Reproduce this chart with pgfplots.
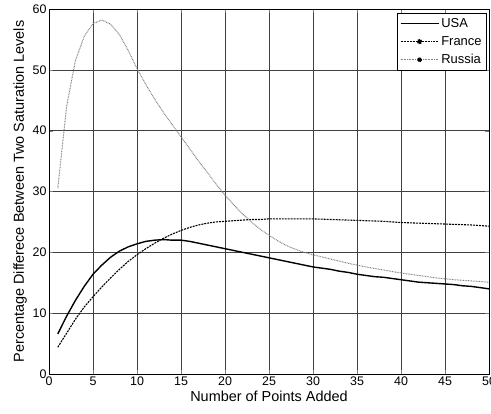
\documentclass[border=0pt]{standalone}
\usepackage{pgfplots}
\pgfplotsset{compat=1.18}
\usepackage{fontspec}
\setmainfont{Liberation Sans}

\begin{document}
\begin{tikzpicture}[x=1bp,y=1bp]
\begin{axis}[
  name=ax,
  width=440bp, height=365bp,
  scale only axis,
  xmin=0, xmax=50, ymin=0, ymax=60,
  xtick={0,5,...,50}, ytick={0,10,...,60},
  tick align=inside,
  major tick length=4bp,
  axis line style={black, line width=1pt},
  grid=major,
  grid style={black!75, line width=0.6pt},
  /pgf/number format/assume math mode=true,
  tick label style={font=\fontsize{12.5}{14}\selectfont},
  xticklabel style={yshift=1bp},
  yticklabel style={xshift=1bp},
  label style={font=\fontsize{14.5}{16}\selectfont},
  xlabel={Number of Points Added},
  ylabel={Percentage Differece Between Two Saturation Levels},
  xlabel style={yshift=1bp},
  ylabel style={yshift=-1bp},
  legend style={at={(1,1)}, anchor=north east, xshift=-2bp, yshift=-4bp,
    font=\fontsize{13}{15}\selectfont, draw=black, line width=0.8pt,
    inner xsep=3bp, inner ysep=3bp, row sep=3.5bp, cells={anchor=west}},
  legend cell align=left,
]
\addplot[black, line width=1.4pt,
  legend image code/.code={\draw[black, line width=1.4pt] (0bp,0bp) -- (38bp,0bp);}]
coordinates {
(1,6.6) (2,9.5) (3,12.1) (4,14.4) (5,16.4) (6,17.9) (7,19.2) (8,20.2) (9,20.9) (10,21.4)
(11,21.8) (12,22.0) (13,22.1) (14,22.0) (15,22.0) (16,21.8) (17,21.5) (18,21.2) (19,20.9) (20,20.6)
(21,20.3) (22,20.0) (23,19.7) (24,19.4) (25,19.1) (26,18.8) (27,18.5) (28,18.2) (29,17.9) (30,17.6)
(31,17.4) (32,17.2) (33,16.9) (34,16.7) (35,16.4) (36,16.2) (37,16.0) (38,15.9) (39,15.7) (40,15.5)
(41,15.3) (42,15.1) (43,15.0) (44,14.9) (45,14.8) (46,14.7) (47,14.5) (48,14.4) (49,14.2) (50,14.0)
};
\addlegendentry{USA}
\addplot[black, line width=1.1pt, dash pattern=on 2pt off 1pt,
  legend image code/.code={\draw[black, line width=1.1pt, dash pattern=on 2pt off 1pt] (0bp,0bp) -- (38bp,0bp);
    \fill[black] (19bp,0bp) circle (2bp);}]
coordinates {
(1,4.4) (2,6.7) (3,9.0) (4,11.0) (5,12.7) (6,14.3) (7,15.8) (8,17.2) (9,18.5) (10,19.6)
(11,20.6) (12,21.5) (13,22.3) (14,23.0) (15,23.6) (16,24.1) (17,24.5) (18,24.8) (19,25.0) (20,25.1)
(21,25.2) (22,25.3) (23,25.4) (24,25.4) (25,25.5) (26,25.5) (27,25.5) (28,25.5) (29,25.5) (30,25.5)
(32,25.4) (34,25.3) (36,25.2) (38,25.1) (40,24.9) (42,24.8) (44,24.7) (46,24.6) (48,24.5) (50,24.3)
};
\addlegendentry{France}
\addplot[black!50, line width=1pt, dash pattern=on 0.8pt off 0.8pt,
  legend image code/.code={\draw[black!50, line width=1pt, dash pattern=on 0.8pt off 0.8pt] (0bp,0bp) -- (38bp,0bp);
    \fill[black] (19bp,0bp) circle (2bp);}]
coordinates {
(1,30.5) (2,44.0) (3,51.5) (4,55.5) (5,57.6) (6,58.2) (7,57.5) (8,55.8) (9,53.2) (10,50.2)
(11,47.6) (12,45.2) (13,43.0) (14,41.0) (15,39.0) (16,37.0) (17,35.0) (18,33.1) (19,31.2) (20,29.4)
(21,27.8) (22,26.3) (23,25.0) (24,23.8) (25,22.8) (26,21.9) (27,21.1) (28,20.5) (29,20.0) (30,19.6)
(32,18.9) (34,18.2) (36,17.6) (38,17.1) (40,16.6) (42,16.2) (44,15.8) (46,15.5) (48,15.3) (50,15.1)
};
\addlegendentry{Russia}
\end{axis}
\pgfresetboundingbox
\path (ax.south west) ++(-49bp,-39bp) rectangle ([shift={(2bp,9bp)}]ax.north east);
\end{tikzpicture}
\end{document}
